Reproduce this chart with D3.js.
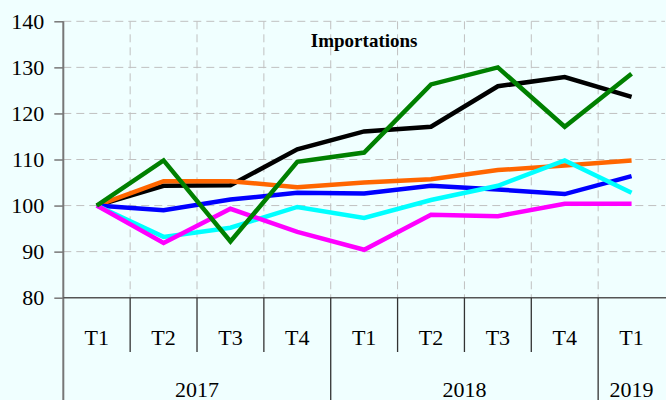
<!DOCTYPE html>
<html>
<head>
<meta charset="utf-8">
<script src="https://cdn.jsdelivr.net/npm/d3@7"></script>
<style>
  body { margin: 0; background: #F0FFFF; }
  svg { display: block; font-family: "Liberation Serif", "Times New Roman", serif; }
</style>
</head>
<body>
<div class="chart"></div>
<script>
// data
var quarters = ["T1", "T2", "T3", "T4", "T1", "T2", "T3", "T4", "T1"];
var years = ["2017", "2018", "2019"];
var yearSpans = [4, 4, 1];
var yTicks = [80, 90, 100, 110, 120, 130, 140];

var black   = [100, 104.3, 104.4, 112.2, 116.1, 117.1, 125.9, 127.9, 123.6];
var orange  = [100, 105.3, 105.3, 104.0, 105.0, 105.7, 107.7, 108.7, 109.8];
var blue    = [100, 99.0, 101.3, 102.8, 102.6, 104.3, 103.5, 102.5, 106.4];
var cyan    = [100, 93.2, 95.2, 99.7, 97.3, 101.2, 104.3, 109.8, 102.8];
var magenta = [100, 91.9, 99.3, 94.3, 90.4, 98.0, 97.7, 100.4, 100.4];
var green   = [100, 109.8, 92.2, 109.5, 111.5, 126.3, 130.0, 117.1, 128.6];

var title = "Importations";

// setup
var width = 666, height = 400;
var plotLeft = 63.3, plotRight = 665, plotTop = 21.3, plotBottom = 297.7;

var svg = d3.select(".chart").append("svg")
    .attr("width", width)
    .attr("height", height);

svg.append("rect")
    .attr("width", width).attr("height", height)
    .attr("fill", "#F0FFFF");

var x = d3.scaleBand()
    .domain(d3.range(quarters.length))
    .range([plotLeft, plotRight])
    .paddingInner(0).paddingOuter(0);

var y = d3.scaleLinear()
    .domain([80, 140])
    .range([plotBottom, plotTop]);

// grid
svg.append("g").selectAll("line")
    .data(yTicks.filter(function(d){ return d > 80; }))
  .enter().append("line")
    .attr("x1", plotLeft).attr("x2", plotRight)
    .attr("y1", function(d){ return y(d); })
    .attr("y2", function(d){ return y(d); })
    .attr("stroke", "#c0c0c0")
    .attr("stroke-dasharray", "8,5");

svg.append("g").selectAll("line")
    .data(d3.range(1, quarters.length))
  .enter().append("line")
    .attr("x1", function(d){ return x(d); })
    .attr("x2", function(d){ return x(d); })
    .attr("y1", plotTop).attr("y2", plotBottom)
    .attr("stroke", "#c0c0c0")
    .attr("stroke-dasharray", "8,5");

// y axis
var yAxis = d3.axisLeft(y)
    .tickValues(yTicks)
    .tickSize(9)
    .tickPadding(10);

var ya = svg.append("g")
    .attr("transform", "translate(" + plotLeft + ",0)")
    .call(yAxis);
ya.select(".domain").remove();
ya.selectAll(".tick line").attr("stroke", "#777").attr("stroke-width", 1.5);
ya.selectAll(".tick text")
    .attr("fill", "#000")
    .style("font-size", "22px")
    .style("font-family", "Liberation Serif, serif");

svg.append("line")
    .attr("x1", plotLeft).attr("x2", plotLeft)
    .attr("y1", plotTop).attr("y2", height)
    .attr("stroke", "#777").attr("stroke-width", 2);

svg.append("line")
    .attr("x1", plotLeft).attr("x2", plotRight + 2)
    .attr("y1", plotBottom).attr("y2", plotBottom)
    .attr("stroke", "#555").attr("stroke-width", 1.5);

// quarter separators and labels
var yearStarts = [0];
yearSpans.forEach(function(s, i){ yearStarts.push(yearStarts[i] + s); });

svg.append("g").selectAll("line")
    .data(d3.range(1, quarters.length))
  .enter().append("line")
    .attr("x1", function(d){ return x(d); })
    .attr("x2", function(d){ return x(d); })
    .attr("y1", plotBottom)
    .attr("y2", function(d){ return yearStarts.indexOf(d) >= 0 ? height : 352; })
    .attr("stroke", "#333").attr("stroke-width", 1.3);

svg.append("g").selectAll("text")
    .data(quarters)
  .enter().append("text")
    .attr("x", function(d, i){ return x(i) + x.bandwidth() / 2; })
    .attr("y", 345)
    .attr("text-anchor", "middle")
    .style("font-size", "22px")
    .text(function(d){ return d; });

svg.append("g").selectAll("text")
    .data(years)
  .enter().append("text")
    .attr("x", function(d, i){
      var a = x(yearStarts[i]);
      var b = yearStarts[i + 1] >= quarters.length ? plotRight : x(yearStarts[i + 1]);
      return (a + b) / 2;
    })
    .attr("y", 397)
    .attr("text-anchor", "middle")
    .style("font-size", "22px")
    .text(function(d){ return d; });

// lines
var line = d3.line()
    .x(function(d, i){ return x(i) + x.bandwidth() / 2; })
    .y(function(d){ return y(d); });

var series = [
  { values: black, color: "#000000" },
  { values: orange, color: "#FF6600" },
  { values: blue, color: "#0000FF" },
  { values: cyan, color: "#00FFFF" },
  { values: magenta, color: "#FF00FF" },
  { values: green, color: "#008000" }
];

svg.append("g").selectAll("path")
    .data(series)
  .enter().append("path")
    .attr("d", function(d){ return line(d.values); })
    .attr("fill", "none")
    .attr("stroke", function(d){ return d.color; })
    .attr("stroke-width", 4.5)
    .attr("stroke-linejoin", "miter");

// title
svg.append("text")
    .attr("x", (plotLeft + plotRight) / 2)
    .attr("y", 47)
    .attr("text-anchor", "middle")
    .style("font-size", "19px")
    .style("font-weight", "bold")
    .text(title);
</script>
</body>
</html>
